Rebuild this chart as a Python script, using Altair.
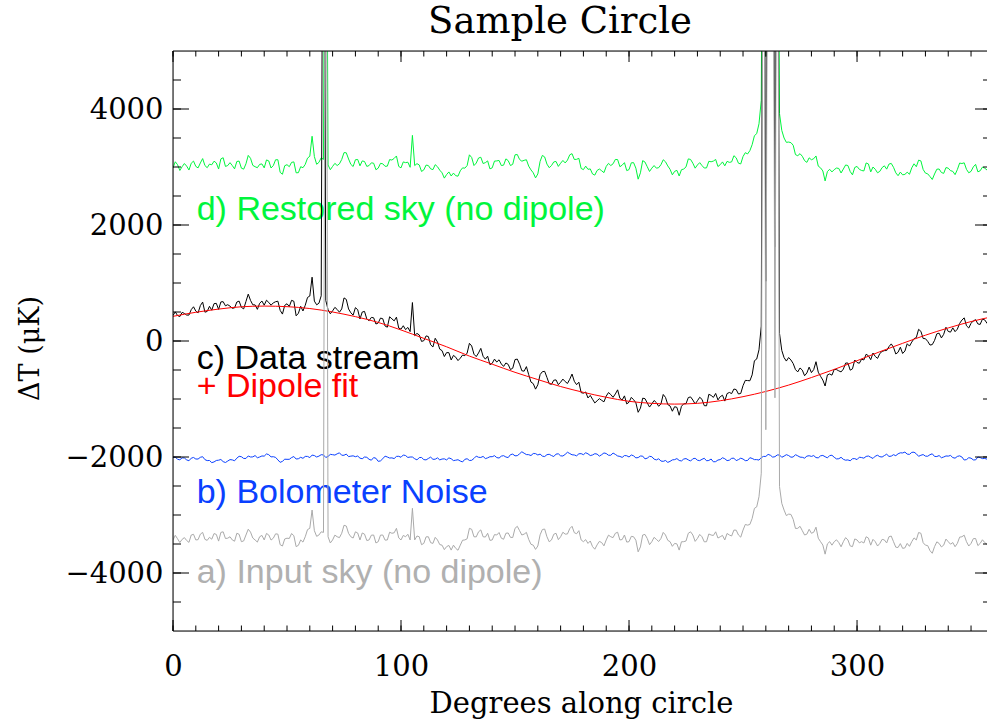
import altair as alt
import pandas as pd

# ---- data: degrees along circle, values in microK ----
EVEN_DEG = list(range(0, 361, 2))
ODD_DEG = list(range(1, 360, 2))

# a) input sky (offset), even / odd degrees
INPUT_SKY_EVEN = [
    -3430, -3410, -3420, -3440, -3345, -3430, -3330, -3420, -3385, -3320,
    -3450, -3290, -3400, -3430, -3315, -3460, -3345, -3295, -3430, -3375,
    -3430, -3345, -3400, -3330, -3535, -3400, -3320, -3545, -3430, -3375,
    -3230, -3270, -3345, -3300, -3375, -3430, -3375, -3315, -3190, -3375,
    -3290, -3430, -3330, -3430, -3345, -3460, -3345, -3430, -3315, -3230,
    -3430, -3375, -3430, -3430, -3375, -3490, -3375, -3490, -3430, -3520,
    -3545, -3605, -3575, -3520, -3430, -3230, -3375, -3290, -3375, -3315,
    -3430, -3345, -3400, -3315, -3385, -3230, -3270, -3330, -3420, -3520,
    -3535, -3250, -3375, -3430, -3315, -3375, -3330, -3235, -3305, -3270,
    -3460, -3490, -3545, -3515, -3475, -3430, -3375, -3315, -3430, -3345,
    -3460, -3375, -3635, -3345, -3405, -3460, -3420, -3405, -3345, -3460,
    -3490, -3605, -3460, -3315, -3345, -3405, -3375, -3460, -3345, -3290,
    -3375, -3430, -3345, -3260, -3345, -3260, -3175, -3060, -2860, -2280,
    -1530, 12000, -980, -2510, -2915, -2985, -3075, -3230, -3270, -3330,
    -3315, -3210, -3460, -3675, -3460, -3460, -3475, -3460, -3430, -3545,
    -3430, -3460, -3375, -3520, -3460, -3490, -3430, -3375, -3460, -3560,
    -3575, -3490, -3460, -3430, -3315, -3520, -3615, -3545, -3490, -3520,
    -3460, -3475, -3490, -3375, -3460, -3490, -3405, -3490, -3475, -3450,
    -3430,
]
INPUT_SKY_ODD = [
    -3350, -3475, -3390, -3472, -3333, -3425, -3300, -3437, -3417, -3335,
    -3300, -3405, -3375, -3452, -3333, -3447, -3245, -3397, -3467, -3352,
    -3318, -3432, -3325, -3512, -3413, -3405, -3357, -3523, -3467, -3252,
    -2915, -3368, -3290, 12000, -3482, -3347, -3390, -3177, -3317, -3397,
    -3310, -3310, -3440, -3348, -3482, -3347, -3433, -3297, -3307, -3395,
    -3352, -3332, -2885, -3362, -3512, -3377, -3477, -3385, -3510, -3597,
    -3525, -3520, -3608, -3435, -3410, -3247, -3377, -3257, -3380, -3437,
    -3338, -3302, -3418, -3310, -3388, -3195, -3345, -3300, -3505, -3593,
    -3342, -3242, -3462, -3332, -3425, -3297, -3327, -3195, -3323, -3430,
    -3425, -3448, -3590, -3455, -3532, -3347, -3390, -3297, -3423, -3467,
    -3368, -3435, -3550, -3335, -3512, -3385, -3457, -3300, -3437, -3540,
    -3498, -3462, -3448, -3290, -3455, -3335, -3463, -3327, -3353, -3397,
    -3352, -3318, -3362, -3262, -3382, -3163, -3163, -2885, -2685, 12000,
    12000, 12000, 12000, -2800, -3010, -2990, -3232, -3195, -3345, -3247,
    -3297, -3400, -3518, -3498, -3520, -3428, -3548, -3390, -3533, -3413,
    -3480, -3483, -3398, -3420, -3535, -3420, -3482, -3363, -3555, -3493,
    -3567, -3540, -3395, -3302, -3478, -3528, -3660, -3463, -3550, -3415,
    -3503, -3547, -3382, -3348, -3535, -3408, -3528, -3427, -3507, -3365,
]

# b) bolometer noise (offset)
NOISE_EVEN = [
    -2010, -2040, -2015, -2050, -2020, -2035, -2005, -2045, -2060, -2085,
    -2055, -2080, -2070, -2050, -2020, -1995, -2025, -2000, -1975, -2000,
    -1985, -1960, -1995, -2050, -2075, -2040, -2010, -2035, -2005, -1990,
    -2010, -1975, -1985, -1965, -1990, -1960, -1945, -1970, -1950, -1985,
    -1995, -2020, -2000, -2040, -2010, -2075, -2030, -2000, -2015, -1990,
    -2005, -1975, -2000, -2030, -2010, -2045, -2025, -2040, -2015, -2035,
    -2050, -2030, -2055, -2070, -2040, -2060, -2025, -2005, -1990, -2015,
    -1995, -2010, -1985, -2000, -1960, -1980, -1945, -1935, -1960, -1940,
    -1965, -1985, -1960, -1975, -1950, -1980, -1955, -1940, -1965, -1945,
    -1960, -1945, -1965, -1950, -1960, -1940, -1970, -1955, -1990, -1975,
    -2000, -1980, -2010, -1985, -2020, -1995, -2050, -2070, -2060, -2075,
    -2045, -2060, -2035, -2050, -2030, -2055, -2040, -2065, -2035, -2080,
    -2045, -2030, -2055, -2020, -2045, -2035, -2060, -2025, -2045, -2010,
    -1990, -1970, -1995, -1965, -1985, -1975, -2000, -1980, -2005, -1985,
    -1990, -2010, -1980, -1995, -1975, -2005, -2030, -2040, -2050, -2030,
    -2045, -2010, -1990, -2005, -1985, -1995, -1975, -1990, -1960, -1945,
    -1930, -1950, -1920, -1945, -1970, -1985, -1960, -1990, -1975, -2000,
    -1985, -2010, -1990, -2000, -2045, -2020, -2050, -2010, -2025, -2000,
    -2015,
]
NOISE_ODD = [
    -2000, -2048, -2017, -2065, -2008, -2035, -1995, -2062, -2097, -2060,
    -2043, -2095, -2045, -2065, -1988, -2025, -1982, -1998, -2013, -1982,
    -1947, -1998, -2007, -2092, -2038, -2040, -1992, -2030, -2023, -1990,
    -1967, -2000, -1960, -2008, -1955, -1967, -1928, -1970, -1993, -1980,
    -1983, -2030, -2005, -2055, -2022, -2067, -1985, -2018, -2027, -1988,
    -1965, -2008, -2000, -2050, -2008, -2050, -2002, -2038, -2050, -2032,
    -2015, -2062, -2047, -2085, -2030, -2057, -1985, -2008, -2027, -1995,
    -1977, -2018, -1977, -2010, -1950, -1977, -1910, -1958, -1975, -1942,
    -1950, -1992, -1953, -1992, -1945, -1983, -1918, -1962, -1980, -1942,
    -1927, -1975, -1943, -1985, -1930, -1970, -1932, -1982, -2007, -1978,
    -1965, -2015, -1983, -2032, -1988, -2037, -2030, -2075, -2093, -2050,
    -2027, -2068, -2027, -2070, -2022, -2063, -2022, -2060, -2083, -2052,
    -2013, -2062, -2023, -2062, -2020, -2063, -2012, -2045, -2053, -1990,
    -1955, -2002, -1965, -2005, -1960, -2003, -1960, -2002, -2020, -1978,
    -1975, -2015, -1973, -2015, -1970, -2033, -2005, -2055, -2065, -2028,
    -2003, -2020, -1983, -2025, -1970, -2000, -1952, -1985, -1977, -1928,
    -1915, -1955, -1917, -1988, -1958, -1987, -1945, -1992, -2013, -1982,
    -1973, -2020, -1980, -2052, -2012, -2050, -2000, -2028, -2037, -1998,
]

# c) data stream
DATA_STREAM_EVEN = [
    440, 439, 493, 447, 541, 515, 611, 497, 598, 644,
    545, 678, 626, 564, 672, 580, 682, 700, 622, 650,
    617, 665, 658, 686, 464, 642, 701, 434, 598, 616,
    775, 688, 651, 12000, 542, 520, 544, 553, 717, 486,
    575, 380, 510, 350, 400, 310, 384, 238, 382, 411,
    205, 196, 162, 93, 104, 5, 76, -103, -17, -166,
    -200, -327, -279, -296, -253, -40, -228, -206, -264, -262,
    -385, -363, -396, -379, -492, -320, -400, -520, -580, -735,
    -755, -529, -628, -747, -671, -710, -700, -660, -695, -710,
    -900, -982, -1004, -1031, -1023, -950, -924, -913, -987, -946,
    -1055, -1012, -1229, -986, -1068, -1085, -1063, -1085, -973, -1120,
    -1133, -1280, -1083, -975, -1018, -1030, -1006, -1117, -938, -904,
    -960, -1036, -887, -828, -914, -770, -682, -584, -311, 257,
    1030, 12000, 1624, 131, -287, -285, -389, -533, -502, -551,
    -545, -357, -609, -776, -568, -490, -515, -485, -380, -480,
    -370, -314, -228, -322, -266, -215, -166, -97, -108, -194,
    -215, -47, -19, 59, 167, 40, -70, 10, 135, 115,
    165, 227, 204, 361, 263, 305, 368, 286, 364, 392,
    425,
]
DATA_STREAM_ODD = [
    502, 421, 475, 447, 590, 485, 671, 510, 531, 649,
    674, 607, 600, 571, 688, 554, 808, 624, 546, 689,
    703, 617, 677, 528, 615, 594, 685, 478, 518, 751,
    1100, 624, 780, 700, 469, 580, 496, 743, 552, 446,
    540, 500, 380, 407, 293, 395, 258, 418, 347, 223,
    263, 234, 663, 131, -7, 88, -65, 47, -141, -268,
    -201, -248, -338, -242, -209, -86, -269, -127, -313, -408,
    -312, -324, -438, -403, -469, -312, -513, -442, -708, -830,
    -579, -523, -737, -676, -753, -657, -732, -570, -753, -890,
    -879, -938, -1068, -994, -1049, -889, -971, -842, -1017, -1085,
    -972, -1065, -1158, -994, -1139, -1026, -1126, -922, -1096, -1211,
    -1144, -1126, -1080, -964, -1086, -970, -1115, -919, -972, -1016,
    -935, -907, -907, -838, -904, -679, -686, -340, -152, 12000,
    12000, 12000, 12000, -163, -346, -327, -493, -465, -599, -450,
    -493, -538, -673, -585, -589, -493, -533, -380, -503, -328,
    -384, -327, -255, -207, -300, -180, -164, -50, -224, -107,
    -173, -88, 40, 201, 43, -6, -62, 124, 53, 237,
    153, 161, 303, 399, 224, 346, 294, 378, 306, 491,
]

# d) restored sky (offset)
RESTORED_EVEN = [
    2985, 3040, 3005, 3015, 3065, 3010, 3070, 3025, 3050, 3100,
    2965, 3160, 3025, 3025, 3095, 2980, 3055, 3150, 3005, 3045,
    2985, 3105, 3025, 3125, 2875, 3040, 3080, 2900, 3005, 3045,
    3185, 3180, 3080, 3130, 3035, 3010, 3025, 3130, 3245, 3045,
    3125, 3020, 3095, 3025, 3065, 2980, 3055, 3015, 3120, 3190,
    2985, 3075, 2995, 3025, 3035, 2950, 3025, 2955, 3005, 2900,
    2870, 2845, 2850, 2935, 2980, 3210, 3025, 3155, 3060, 3105,
    2985, 3105, 3025, 3140, 3025, 3210, 3130, 3115, 3015, 2900,
    2880, 3200, 3050, 3025, 3095, 3065, 3070, 3210, 3130, 3150,
    2955, 2960, 2880, 2940, 2935, 3010, 3025, 3130, 3005, 3075,
    2955, 3075, 2790, 3110, 3005, 2980, 2980, 3040, 3090, 2960,
    2925, 2845, 2965, 3140, 3065, 3035, 3025, 2985, 3090, 3130,
    3040, 3020, 3080, 3195, 3065, 3180, 3225, 3385, 3575, 4150,
    4900, 12000, 5450, 3920, 3500, 3430, 3375, 3195, 3185, 3080,
    3125, 3190, 2985, 2760, 2960, 2955, 2975, 2965, 3025, 2865,
    3010, 2940, 3070, 2915, 2960, 2925, 3020, 3050, 2995, 2850,
    2865, 2910, 2985, 3005, 3105, 2895, 2835, 2880, 2965, 2890,
    2980, 2925, 2955, 3060, 2960, 2925, 3045, 2935, 2980, 2980,
    3000,
]
RESTORED_ODD = [
    3090, 2940, 3060, 2948, 3102, 2985, 3145, 2988, 3038, 3070,
    3140, 3010, 3075, 2968, 3102, 2963, 3200, 3028, 2988, 3053,
    3122, 2983, 3125, 2908, 3022, 3005, 3088, 2902, 2988, 3153,
    3530, 3047, 3160, 12000, 2953, 3063, 3055, 3248, 3138, 3008,
    3130, 3105, 3010, 3072, 2953, 3063, 3012, 3128, 3148, 3010,
    3088, 3083, 3545, 3058, 2923, 3033, 2968, 3040, 2945, 2808,
    2915, 2895, 2842, 2985, 3025, 3163, 3068, 3168, 3075, 2968,
    3102, 3113, 3032, 3110, 3047, 3215, 3100, 3125, 2950, 2812,
    3098, 3173, 2988, 3088, 3010, 3113, 3118, 3230, 3132, 2975,
    3015, 2967, 2860, 2965, 2903, 3063, 3055, 3128, 3032, 2938,
    3072, 2980, 2900, 3085, 2923, 3025, 2988, 3125, 3018, 2865,
    2942, 2953, 3002, 3130, 2980, 3075, 2982, 3098, 3102, 3008,
    3088, 3097, 3088, 3158, 3053, 3247, 3282, 3540, 3745, 12000,
    12000, 12000, 12000, 3630, 3425, 3420, 3213, 3230, 3110, 3158,
    3143, 3015, 2932, 2922, 2915, 2982, 2897, 3035, 2922, 2992,
    2960, 2932, 3052, 3000, 2900, 2990, 2963, 3062, 2900, 2912,
    2873, 2875, 3055, 3118, 2957, 2882, 2785, 2962, 2905, 2990,
    2937, 2868, 3068, 3072, 2900, 3002, 2917, 2998, 2948, 3040,
]

# dipole fit
DIPOLE_DEG = list(range(0, 361, 10))
DIPOLE_FIT = [
    425, 495, 550, 590, 602, 592, 560, 500, 420, 320,
    190, 45, -100, -260, -400, -540, -665, -785, -885, -970,
    -1040, -1075, -1088, -1075, -1030, -960, -870, -760, -630, -490,
    -340, -185, -40, 100, 225, 335, 425,
]

X_MAJOR = [0, 100, 200, 300]
X_MINOR = list(range(0, 360, 10))
Y_MAJOR = [-4000, -2000, 0, 2000, 4000]
Y_MINOR = list(range(-4500, 5000, 500))

TITLE = "Sample Circle"
LABELS = ["d) Restored sky (no dipole)", "c) Data stream", "+ Dipole fit",
          "b) Bolometer Noise", "a) Input sky (no dipole)"]

for ev, od in [(INPUT_SKY_EVEN, INPUT_SKY_ODD), (NOISE_EVEN, NOISE_ODD),
               (DATA_STREAM_EVEN, DATA_STREAM_ODD), (RESTORED_EVEN, RESTORED_ODD)]:
    assert len(ev) == len(EVEN_DEG) and len(od) == len(ODD_DEG)
assert len(DIPOLE_FIT) == len(DIPOLE_DEG)


def series_frame(even, odd):
    df = pd.DataFrame({"deg": EVEN_DEG + ODD_DEG, "val": even + odd})
    return df.sort_values("deg").reset_index(drop=True)


W, H = 814, 580
xs = alt.Scale(domain=[0, 357], nice=False, zero=False)
ys = alt.Scale(domain=[-5000, 5000], nice=False, zero=False)
SERIF = "DejaVu Serif"

xaxis = alt.Axis(values=X_MAJOR, format="d", ticks=False, tickSize=0, domain=False, grid=False,
                 labelFont=SERIF, labelFontSize=29, labelColor="black", labelPadding=21,
                 labelFlush=False, labelOverlap=False,
                 title="Degrees along circle", titleFont=SERIF, titleFontSize=29,
                 titleFontWeight="normal", titleColor="black", titleX=408, titleY=81,
                 titleAlign="center", titleBaseline="alphabetic")
yaxis = alt.Axis(values=Y_MAJOR, format="d", ticks=False, tickSize=0, domain=False, grid=False,
                 labelFont=SERIF, labelFontSize=29, labelColor="black", labelPadding=10,
                 labelFlush=False, labelOverlap=False,
                 title="ΔT (μK)", titleFont=SERIF, titleFontSize=27, titleFontWeight="normal",
                 titleColor="black", titleAngle=270, titleX=-143, titleY=297,
                 titleAlign="center", titleBaseline="middle")


def X(field):
    return alt.X(field, type="quantitative", scale=xs, axis=xaxis)


def Y(field):
    return alt.Y(field, type="quantitative", scale=ys, axis=yaxis)


def line(df, color):
    return alt.Chart(df).mark_line(color=color, strokeWidth=1, clip=True).encode(
        x=X("deg"), y=Y("val"))


GREEN = "#00f53c"
BLUE = "#0a40ff"
GRAY = "#aaaaaa"

green = line(series_frame(RESTORED_EVEN, RESTORED_ODD), GREEN)
black = line(series_frame(DATA_STREAM_EVEN, DATA_STREAM_ODD), "black")
blue = line(series_frame(NOISE_EVEN, NOISE_ODD), BLUE)
gray = line(series_frame(INPUT_SKY_EVEN, INPUT_SKY_ODD), GRAY)
red = alt.Chart(pd.DataFrame({"deg": DIPOLE_DEG, "val": DIPOLE_FIT})).mark_line(
    color="red", strokeWidth=1, clip=True, interpolate="monotone").encode(x=X("deg"), y=Y("val"))


def label(text, color, xd, yd):
    return alt.Chart().mark_text(text=text, color=color, font="Liberation Sans", fontSize=34,
                                 align="left", baseline="alphabetic").encode(
        x=alt.datum(xd, scale=xs, axis=xaxis, type="quantitative"),
        y=alt.datum(yd, scale=ys, axis=yaxis, type="quantitative"))


texts = [
    label(LABELS[0], GREEN, 10.4, 2086),
    label(LABELS[1], "black", 10.4, -483),
    label(LABELS[2], "red", 10.4, -966),
    label(LABELS[3], BLUE, 10.4, -2793),
    label(LABELS[4], "#b0b0b0", 10.4, -4172),
]

title = alt.Chart().mark_text(text=TITLE, font=SERIF, fontSize=37, color="black",
                              align="center", baseline="alphabetic").encode(
    x=alt.value(387), y=alt.value(-18))

xmaj = pd.DataFrame({"v": X_MAJOR})
xmin = pd.DataFrame({"v": X_MINOR})
ymaj = pd.DataFrame({"v": Y_MAJOR})
ymin = pd.DataFrame({"v": Y_MINOR})


def xticks(df, y0, y1):
    return alt.Chart(df).mark_rule(color="black", strokeWidth=1).encode(
        x=X("v"), y=alt.value(y0), y2=alt.value(y1))


def yticks(df, x0, x1):
    return alt.Chart(df).mark_rule(color="black", strokeWidth=1).encode(
        y=Y("v"), x=alt.value(x0), x2=alt.value(x1))


ticks = [
    xticks(xmaj, H, H - 11), xticks(xmin, H, H - 5.5),
    xticks(xmaj, 0, 11), xticks(xmin, 0, 5.5),
    yticks(ymaj, 0, 16), yticks(ymin, 0, 8),
    yticks(ymaj, W, W - 12), yticks(ymin, W, W - 4),
]

frame = [
    alt.Chart().mark_rule(color="black", strokeWidth=1).encode(
        x=alt.value(0), x2=alt.value(W), y=alt.value(0)),
    alt.Chart().mark_rule(color="black", strokeWidth=1).encode(
        x=alt.value(0), x2=alt.value(W), y=alt.value(H)),
    alt.Chart().mark_rule(color="black", strokeWidth=1).encode(
        x=alt.value(0), y=alt.value(0), y2=alt.value(H)),
]

chart = alt.layer(
    *texts, green, black, red, blue, gray, *ticks, *frame, title
).properties(
    width=W, height=H,
    padding={"left": 173, "top": 51, "right": 0, "bottom": 90},
    autosize=alt.AutoSizeParams(type="none"),
).configure_view(stroke=None).configure(background="white")

chart.save("out.html", embed_options={"renderer": "svg", "actions": False})
